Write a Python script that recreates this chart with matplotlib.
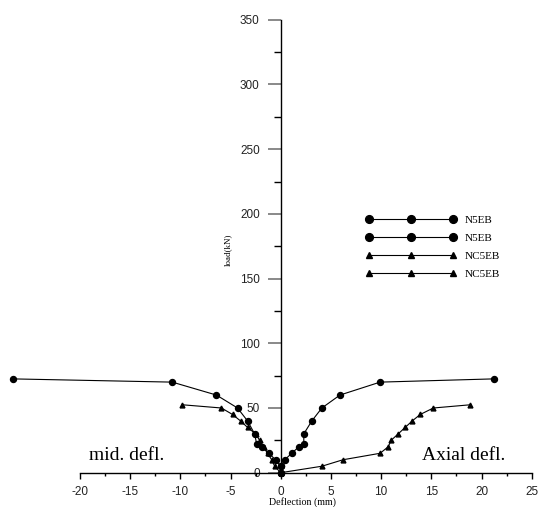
import matplotlib
matplotlib.use("Agg")
import matplotlib.pyplot as plt
import numpy as np
from matplotlib.ticker import FixedLocator

# load levels (kN) and deflections (mm); negative x = mid-span side
n5eb_load = [0, 5, 10, 15, 20, 22.5, 30, 40, 50, 60, 70, 72.5]
n5eb_mid = [0, 0, -0.5, -1.2, -1.9, -2.4, -2.6, -3.3, -4.3, -6.4, -10.8, -26.7]
n5eb_axial = [0, 0, 0.4, 1.1, 1.8, 2.3, 2.3, 3.1, 4.1, 5.9, 9.9, 21.2]

nc5eb_load = [0, 5, 10, 15, 20, 25, 30, 35, 40, 45, 50, 52.5]
nc5eb_mid = [0, -0.6, -0.9, -1.3, -1.7, -2.1, -2.5, -3.3, -4.0, -4.8, -5.9, -9.8]
nc5eb_axial = [0, 4.1, 6.2, 9.9, 10.7, 11.0, 11.7, 12.4, 13.1, 13.9, 15.2, 18.9]

labels = ["N5EB", "N5EB", "NC5EB", "NC5EB"]
x_ticks = [-20, -15, -10, -5, 0, 5, 10, 15, 20, 25]
y_ticks = [0, 50, 100, 150, 200, 250, 300, 350]

W, H = 541, 507
fig = plt.figure(figsize=(W / 100, H / 100), dpi=100)

# axes placed so that x=0 / y=0 fall where the crossing spines sit
x0, sx = 280.7, 10.04
y0, sy = 472.7, 1.294
xlim = (-28, 26)
ylim = (-10, 360)
left_px = x0 + xlim[0] * sx
bot_px = y0 - ylim[0] * sy
ax_w = (xlim[1] - xlim[0]) * sx
ax_h = (ylim[1] - ylim[0]) * sy
ax = fig.add_axes([left_px / W, (H - bot_px) / H, ax_w / W, ax_h / H])

serif = "Liberation Serif"
sans = "Liberation Sans"
PX = 72 / 100  # points per pixel

ax.plot(n5eb_mid, n5eb_load, "-o", color="black", lw=0.8, ms=4.3, label=labels[0])
ax.plot(n5eb_axial, n5eb_load, "-o", color="black", lw=0.8, ms=4.3, label=labels[1])
ax.plot(nc5eb_mid, nc5eb_load, "-^", color="black", lw=0.8, ms=3.5, label=labels[2])
ax.plot(nc5eb_axial, nc5eb_load, "-^", color="black", lw=0.8, ms=3.5, label=labels[3])

ax.set_xlim(*xlim)
ax.set_ylim(*ylim)

for s in ("top", "right"):
    ax.spines[s].set_visible(False)
ax.spines["left"].set_position(("data", 0))
ax.spines["bottom"].set_position(("data", 0))
ax.spines["left"].set_bounds(y_ticks[0], y_ticks[-1])
ax.spines["bottom"].set_bounds(x_ticks[0], x_ticks[-1])
ax.spines["left"].set_linewidth(1.0)
ax.spines["bottom"].set_linewidth(1.0)

ax.set_xticks(x_ticks)
ax.set_yticks(y_ticks)
ax.xaxis.set_minor_locator(FixedLocator(np.arange(x_ticks[0] + 2.5, x_ticks[-1], 5)))
ax.yaxis.set_minor_locator(FixedLocator(np.arange(y_ticks[0] + 25, y_ticks[-1], 50)))
ax.set_xticklabels([str(v) for v in x_ticks], fontfamily=sans)
ax.set_yticklabels([str(v) for v in y_ticks], fontfamily=sans)

ax.tick_params(axis="y", which="major", direction="out", length=13 * PX, width=1.3,
               color="#808080", labelsize=8.5, labelcolor="#222222", pad=8 * PX)
ax.tick_params(axis="y", which="minor", direction="out", length=7 * PX, width=1.0,
               color="black")
ax.tick_params(axis="x", which="major", direction="out", length=6 * PX, width=1.0,
               color="black", labelsize=8.5, labelcolor="#222222", pad=7 * PX)
ax.tick_params(axis="x", which="minor", direction="out", length=3 * PX, width=1.0,
               color="black")

ax.set_xlabel("Deflection (mm)", fontfamily=serif, fontsize=7.2)
ax.xaxis.set_label_coords((302 - left_px) / ax_w, (bot_px - 497) / ax_h)
ax.xaxis.label.set_va("top")
ax.set_ylabel("load(kN)", fontfamily=serif, fontsize=6.5)
ax.yaxis.set_label_coords((232 - left_px) / ax_w, (bot_px - 250) / ax_h)

ax.text(-19.1, 9.8, "mid. defl.", fontfamily=serif, fontsize=14, va="baseline", ha="left")
ax.text(14.1, 9.8, "Axial defl.", fontfamily=serif, fontsize=14, va="baseline", ha="left")

ax.legend(loc="upper left", bbox_to_anchor=(366 / W, 1 - 215 / H),
          bbox_transform=fig.transFigure, frameon=False, numpoints=3,
          prop={"family": serif, "size": 8}, handlelength=8.1,
          handletextpad=0.8, labelspacing=0.75, borderpad=0,
          borderaxespad=0, markerscale=1.3)

fig.savefig("out.png", dpi=100)
